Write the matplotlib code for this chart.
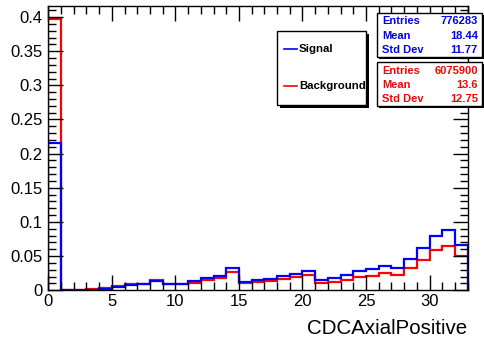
import numpy as np
import matplotlib
matplotlib.use("Agg")
import matplotlib.pyplot as plt
from matplotlib.patches import Rectangle
from matplotlib.ticker import MultipleLocator

plt.rcParams['font.family'] = ['Liberation Sans', 'DejaVu Sans']

# Normalised CDCAxialPositive distributions, unit-width bins from 0 to 33
bin_edges = np.arange(0, 34)
signal = [0.216, 0.0003, 0.0005, 0.001, 0.002, 0.0044, 0.0083, 0.0088, 0.0137,
          0.0088, 0.0098, 0.013, 0.0186, 0.021, 0.0327, 0.0125, 0.0148, 0.0171,
          0.0212, 0.0232, 0.0288, 0.0151, 0.0178, 0.023, 0.0283, 0.0312, 0.0351,
          0.0327, 0.0454, 0.0625, 0.080, 0.0883, 0.0669]
background = [0.397, 0.0003, 0.0008, 0.0015, 0.0034, 0.0063, 0.0098, 0.0098,
              0.0151, 0.0088, 0.0093, 0.0113, 0.0156, 0.0186, 0.0268, 0.0100,
              0.0120, 0.0137, 0.0166, 0.019, 0.022, 0.0103, 0.0125, 0.0156,
              0.0195, 0.0215, 0.0249, 0.022, 0.0322, 0.0439, 0.0586, 0.0654,
              0.0498]

sig_stats = [("Entries", "776283"), ("Mean", "18.44"), ("Std Dev", "11.77")]
bkg_stats = [("Entries", "6075900"), ("Mean", "13.6"), ("Std Dev", "12.75")]
x_label = "CDCAxialPositive"

W, H = 485, 344
fig = plt.figure(figsize=(W / 100, H / 100), dpi=100)


def fx(px):
    return px / W


def fy(py):
    return 1 - py / H


ax = fig.add_axes([fx(48.3), fy(290.3), fx(467.7) - fx(48.3), fy(5.5) - fy(290.3)])

ax.stairs(background, bin_edges, color='#ff0000', lw=1.6, baseline=0)
ax.stairs(signal, bin_edges, color='#0000ff', lw=1.6, baseline=0)

ax.set_xlim(0, 33)
ax.set_ylim(0, 1.05 * max(background))

ax.xaxis.set_major_locator(MultipleLocator(5))
ax.xaxis.set_minor_locator(MultipleLocator(1))
ax.yaxis.set_major_locator(MultipleLocator(0.05))
ax.yaxis.set_minor_locator(MultipleLocator(0.01))
ax.tick_params(which='both', direction='in', top=True, right=True,
               labelsize=12, width=1)
ax.tick_params(which='major', length=11)
ax.tick_params(which='minor', length=6)
ax.tick_params(axis='x', pad=3)
ax.tick_params(axis='y', pad=4)
ax.set_yticks(np.arange(0, 0.41, 0.05))
ax.set_yticklabels(["0"] + ["%g" % v for v in np.round(np.arange(0.05, 0.41, 0.05), 2)])
for sp in ax.spines.values():
    sp.set_linewidth(1.0)

fig.text(fx(467), fy(329), x_label, ha='right', va='center', fontsize=14.8)


def box(x0, y0, x1, y1, shadow=3):
    fig.patches.append(Rectangle((fx(x0 + shadow), fy(y1 + shadow)),
                                 fx(x1 - x0), fy(y0) - fy(y1), transform=fig.transFigure,
                                 facecolor='black', edgecolor='none', zorder=5))
    fig.patches.append(Rectangle((fx(x0), fy(y1)), fx(x1 - x0), fy(y0) - fy(y1),
                                 transform=fig.transFigure, facecolor='white',
                                 edgecolor='black', lw=1.0, zorder=6))


# Legend
box(277, 31, 366, 105, shadow=3)
for name, color, yc in [("Signal", '#0000ff', 49.3), ("Background", '#ff0000', 86)]:
    fig.add_artist(plt.Line2D([fx(284), fx(297)], [fy(yc), fy(yc)], color=color,
                              lw=1.2, transform=fig.transFigure, zorder=7))
    fig.text(fx(299), fy(yc), name, ha='left', va='center', fontsize=8.2,
             fontweight='bold', zorder=7)

# Statistics boxes
for stats, color, top, bottom in [(sig_stats, '#0000ff', 13, 57),
                                  (bkg_stats, '#ff0000', 62, 106)]:
    box(377, top, 482, bottom, shadow=2)
    rows = np.linspace(top + 8.5, bottom - 7, 3)
    for (k, v), yc in zip(stats, rows):
        fig.text(fx(382.5), fy(yc), k, ha='left', va='center', fontsize=8,
                 fontweight='bold', color=color, zorder=7)
        fig.text(fx(478), fy(yc), v, ha='right', va='center', fontsize=8,
                 fontweight='bold', color=color, zorder=7)

fig.savefig("out.png", dpi=100)
